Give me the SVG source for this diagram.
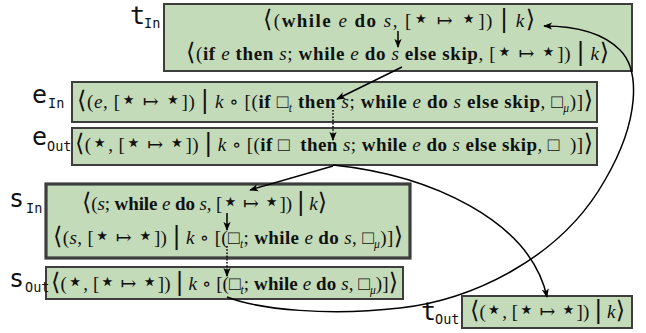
<svg xmlns="http://www.w3.org/2000/svg" width="646" height="333" viewBox="0 0 646 333">
<defs>
<style>
.box{fill:#c3dbb8;stroke:#3d3d3d;stroke-width:2}
.thick{stroke-width:3.2}
.lbl{font-family:"DejaVu Sans Mono",monospace;font-size:25px;fill:#111}
.sub{font-family:"DejaVu Sans Mono",monospace;font-size:13.5px;fill:#111}
.m{font-family:"Liberation Serif","DejaVu Serif",serif;font-size:19px;fill:#111}
.b{font-weight:bold}
.i{font-style:italic}
.s{font-size:11.5px}
.br{font-family:"DejaVu Sans",sans-serif;font-size:24px;font-weight:normal}
.st{font-family:"DejaVu Sans",sans-serif;font-size:26px}
.conn{fill:none;stroke:#000;stroke-width:1.5}
.dot{stroke-dasharray:1.6,1.6}
</style>
<marker id="arr" viewBox="0 0 10 10" refX="9" refY="5" markerWidth="9" markerHeight="9" markerUnits="userSpaceOnUse" orient="auto">
<path d="M0,1 L10,5 L0,9 L2.5,5 z" fill="#000"/>
</marker>
</defs>

<g id="tIn">
<rect class="box" x="164" y="4" width="468" height="67"/>
<text class="lbl" x="130" y="24">t</text><text class="sub" x="144" y="28">In</text>
<text class="m" x="263" y="27" textLength="272"><tspan class="br">⟨</tspan>(<tspan class="b">while</tspan> <tspan class="i">e</tspan> <tspan class="b">do</tspan> <tspan class="i">s</tspan>, [<tspan class="st">⋆</tspan> ↦ <tspan class="st">⋆</tspan>]) <tspan class="br">|</tspan> <tspan class="i">k</tspan><tspan class="br">⟩</tspan></text>
<text class="m" x="186" y="60" textLength="423"><tspan class="br">⟨</tspan>(<tspan class="b">if</tspan> <tspan class="i">e</tspan> <tspan class="b">then</tspan> <tspan class="i">s</tspan>; <tspan class="b">while</tspan> <tspan class="i">e</tspan> <tspan class="b">do</tspan> <tspan class="i">s</tspan> <tspan class="b">else skip</tspan>, [<tspan class="st">⋆</tspan> ↦ <tspan class="st">⋆</tspan>]) <tspan class="br">|</tspan> <tspan class="i">k</tspan><tspan class="br">⟩</tspan></text>
</g>

<g id="eIn">
<rect class="box" x="72" y="82" width="525" height="40"/>
<text class="lbl" x="32" y="103">e</text><text class="sub" x="48" y="108">In</text>
<text class="m" x="77" y="108" textLength="516"><tspan class="br">⟨</tspan>(<tspan class="i">e</tspan>, [<tspan class="st">⋆</tspan> ↦ <tspan class="st">⋆</tspan>]) <tspan class="br">|</tspan> <tspan class="i">k</tspan> ∘ [(<tspan class="b">if</tspan> □<tspan class="s i" dy="4">t</tspan> <tspan class="b" dy="-4">then</tspan> <tspan class="i">s</tspan>; <tspan class="b">while</tspan> <tspan class="i">e</tspan> <tspan class="b">do</tspan> <tspan class="i">s</tspan> <tspan class="b">else skip</tspan>, □<tspan class="s i" dy="4">μ</tspan><tspan dy="-4">)]</tspan><tspan class="br">⟩</tspan></text>
</g>

<g id="eOut">
<rect class="box" x="72" y="128" width="525" height="37"/>
<text class="lbl" x="32" y="145">e</text><text class="sub" x="47" y="151">Out</text>
<text class="m" x="75" y="151" textLength="518"><tspan class="br">⟨</tspan>(<tspan class="st">⋆</tspan>, [<tspan class="st">⋆</tspan> ↦ <tspan class="st">⋆</tspan>]) <tspan class="br">|</tspan> <tspan class="i">k</tspan> ∘ [(<tspan class="b">if</tspan> □&#160;&#160;<tspan class="b">then</tspan> <tspan class="i">s</tspan>; <tspan class="b">while</tspan> <tspan class="i">e</tspan> <tspan class="b">do</tspan> <tspan class="i">s</tspan> <tspan class="b">else skip</tspan>, □&#160;&#160;)]<tspan class="br">⟩</tspan></text>
</g>

<g id="sIn">
<rect class="box thick" x="46" y="184" width="364" height="74"/>
<text class="lbl" x="9" y="207">s</text><text class="sub" x="26" y="213">In</text>
<text class="m" x="82" y="210" textLength="245"><tspan class="br">⟨</tspan>(<tspan class="i">s</tspan>; <tspan class="b">while</tspan> <tspan class="i">e</tspan> <tspan class="b">do</tspan> <tspan class="i">s</tspan>, [<tspan class="st">⋆</tspan> ↦ <tspan class="st">⋆</tspan>]) <tspan class="br">|</tspan> <tspan class="i">k</tspan><tspan class="br">⟩</tspan></text>
<text class="m" x="53" y="244" textLength="350"><tspan class="br">⟨</tspan>(<tspan class="i">s</tspan>, [<tspan class="st">⋆</tspan> ↦ <tspan class="st">⋆</tspan>]) <tspan class="br">|</tspan> <tspan class="i">k</tspan> ∘ [(□<tspan class="s i" dy="4">t</tspan><tspan dy="-4">;</tspan> <tspan class="b">while</tspan> <tspan class="i">e</tspan> <tspan class="b">do</tspan> <tspan class="i">s</tspan>, □<tspan class="s i" dy="4">μ</tspan><tspan dy="-4">)]</tspan><tspan class="br">⟩</tspan></text>
</g>

<g id="sOut">
<rect class="box" x="46" y="267" width="357" height="32"/>
<text class="lbl" x="9" y="287">s</text><text class="sub" x="25" y="292">Out</text>
<text class="m" x="51" y="290" textLength="347"><tspan class="br">⟨</tspan>(<tspan class="st">⋆</tspan>, [<tspan class="st">⋆</tspan> ↦ <tspan class="st">⋆</tspan>]) <tspan class="br">|</tspan> <tspan class="i">k</tspan> ∘ [(□<tspan class="s i" dy="4">t</tspan><tspan dy="-4">;</tspan> <tspan class="b">while</tspan> <tspan class="i">e</tspan> <tspan class="b">do</tspan> <tspan class="i">s</tspan>, □<tspan class="s i" dy="4">μ</tspan><tspan dy="-4">)]</tspan><tspan class="br">⟩</tspan></text>
</g>

<g id="tOut">
<rect class="box" x="462" y="296" width="170" height="32"/>
<text class="lbl" x="421" y="320">t</text><text class="sub" x="435" y="324">Out</text>
<text class="m" x="470" y="318" textLength="155"><tspan class="br">⟨</tspan>(<tspan class="st">⋆</tspan>, [<tspan class="st">⋆</tspan> ↦ <tspan class="st">⋆</tspan>]) <tspan class="br">|</tspan> <tspan class="i">k</tspan><tspan class="br">⟩</tspan></text>
</g>

<g id="connectors">
<path class="conn" d="M398,31 L398,47" marker-end="url(#arr)"/>
<path class="conn" d="M402,67 L337,99" marker-end="url(#arr)"/>
<path class="conn dot" d="M333,110 L333,140" marker-end="url(#arr)"/>
<path class="conn" d="M333,166 L250,190" marker-end="url(#arr)"/>
<path class="conn" d="M227,213 L227,230" marker-end="url(#arr)"/>
<path class="conn dot" d="M227,246 L227,276" marker-end="url(#arr)"/>
<path class="conn" d="M333,165 C430,175 530,220 547,297" marker-end="url(#arr)"/>
<path class="conn" d="M227,297 C260,310 330,316 400,308 C470,300 560,260 605,180 C640,120 640,70 620,50 C600,30 570,26 544,26" marker-end="url(#arr)"/>
</g>
</svg>
